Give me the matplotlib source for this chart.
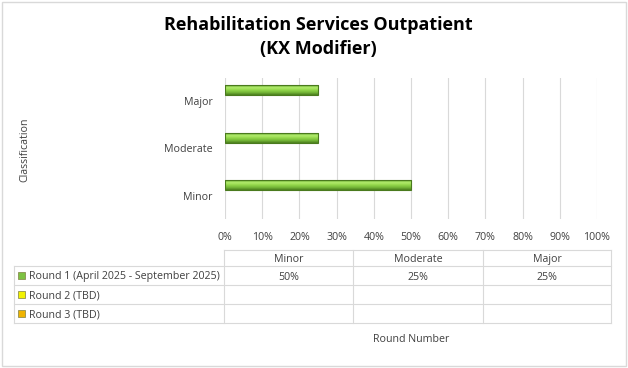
import numpy as np
import matplotlib.pyplot as plt
from matplotlib.patches import Rectangle
from matplotlib.colors import LinearSegmentedColormap

plt.rcParams['font.family'] = ['Open Sans', 'DejaVu Sans']

categories = ['Minor', 'Moderate', 'Major']
series_names = ['Round 1 (April 2025 - September 2025)', 'Round 2 (TBD)', 'Round 3 (TBD)']
round1 = [0.50, 0.25, 0.25]
round2 = [None, None, None]
round3 = [None, None, None]
series_colors = ['#7DC242', '#F2F200', '#F0B400']
x_ticks = [i / 10 for i in range(11)]

W, H = 628, 368
fig = plt.figure(figsize=(W / 100, H / 100), dpi=100)

def fx(px):
    return px / W

def fy(py):
    return 1 - py / H

# outer border
fig.patches.append(Rectangle((fx(2), fy(366)), fx(624), 364 / H, transform=fig.transFigure,
                             fill=False, edgecolor='#D9D9D9', lw=1))

fig.text(fx(318), fy(25), 'Rehabilitation Services Outpatient', ha='center', va='center',
         fontsize=13, fontweight='bold', color='black')
fig.text(fx(318), fy(49), '(KX Modifier)', ha='center', va='center',
         fontsize=13, fontweight='bold', color='black')

ax = fig.add_axes([fx(225), fy(219.5), fx(597) - fx(225), (219.5 - 77.5) / H])
y = np.arange(len(categories))
offsets = [0.23, 0.0, -0.23]
bar_h = 0.21

green = LinearSegmentedColormap.from_list('g', ['#6BAA33', '#B2EC6C', '#92D64A', '#74B637', '#4C7F1F'])
for vals, off in zip([round1, round2, round3], offsets):
    v = [0 if a is None else a for a in vals]
    bars = ax.barh(y + off, v, height=bar_h, color='none', edgecolor='none', lw=0)
    for b, a in zip(bars, vals):
        if a is None or a == 0:
            continue
        x0, y0 = b.get_x(), b.get_y()
        w, h = b.get_width(), b.get_height()
        grad = np.linspace(0, 1, 50).reshape(-1, 1)
        im = ax.imshow(grad, extent=[x0, x0 + w, y0, y0 + h], origin='upper',
                       cmap=green, aspect='auto', zorder=3)
        im.set_clip_path(b)
        ax.add_patch(Rectangle((x0, y0), w, h, fill=False, edgecolor='#4A7A1E', lw=0.8, zorder=4))

ax.set_xlim(0, 1)
ax.set_ylim(-0.5, 2.5)
ax.set_xticks(x_ticks)
ax.set_xticklabels([f'{int(round(t * 100))}%' for t in x_ticks], fontsize=7.7, color='#404040')
ax.set_yticks(y)
ax.set_yticklabels(categories, fontsize=7.7, color='#404040')
ax.tick_params(length=0, axis='x', pad=9)
ax.tick_params(length=0, axis='y', pad=9)
ax.grid(axis='x', color='#D9D9D9', lw=0.8)
ax.set_axisbelow(True)
for s in ax.spines.values():
    s.set_visible(False)

fig.text(fx(25), fy(150), 'Classification', rotation=90, ha='center', va='center',
         fontsize=7.7, color='#404040')

# data table
line_c = '#D9D9D9'
col_x = [224, 353, 483, 611]
row_y = [250, 266, 285, 304, 323]
left_x = 14

def hline(x0, x1, yy):
    fig.add_artist(plt.Line2D([fx(x0), fx(x1)], [fy(yy), fy(yy)], color=line_c, lw=0.8))

def vline(xx, y0, y1):
    fig.add_artist(plt.Line2D([fx(xx), fx(xx)], [fy(y0), fy(y1)], color=line_c, lw=0.8))

hline(col_x[0], col_x[-1], row_y[0])
for yy in row_y[1:]:
    hline(left_x, col_x[-1], yy)
for xx in col_x:
    vline(xx, row_y[0], row_y[-1])
vline(left_x, row_y[1], row_y[-1])

for i, c in enumerate(categories):
    cx = (col_x[i] + col_x[i + 1]) / 2
    fig.text(fx(cx), fy((row_y[0] + row_y[1]) / 2), c, ha='center', va='center_baseline',
             fontsize=7.7, color='#404040')

for r, (name, vals, col) in enumerate(zip(series_names, [round1, round2, round3], series_colors)):
    cy = (row_y[r + 1] + row_y[r + 2]) / 2
    fig.patches.append(Rectangle((fx(18), fy(cy + 3.5)), fx(7), 7 / H, transform=fig.transFigure,
                                 facecolor=col, edgecolor='#7F7F40', lw=0.5))
    fig.text(fx(29), fy(cy), name, ha='left', va='center_baseline', fontsize=7.7, color='#404040')
    for i, v in enumerate(vals):
        if v is None:
            continue
        cx = (col_x[i] + col_x[i + 1]) / 2
        fig.text(fx(cx), fy(cy), f'{int(round(v * 100))}%', ha='center', va='center_baseline',
                 fontsize=7.7, color='#404040')

fig.text(fx(411), fy(340), 'Round Number', ha='center', va='center', fontsize=7.7, color='#404040')

fig.savefig('out.png', dpi=100)
